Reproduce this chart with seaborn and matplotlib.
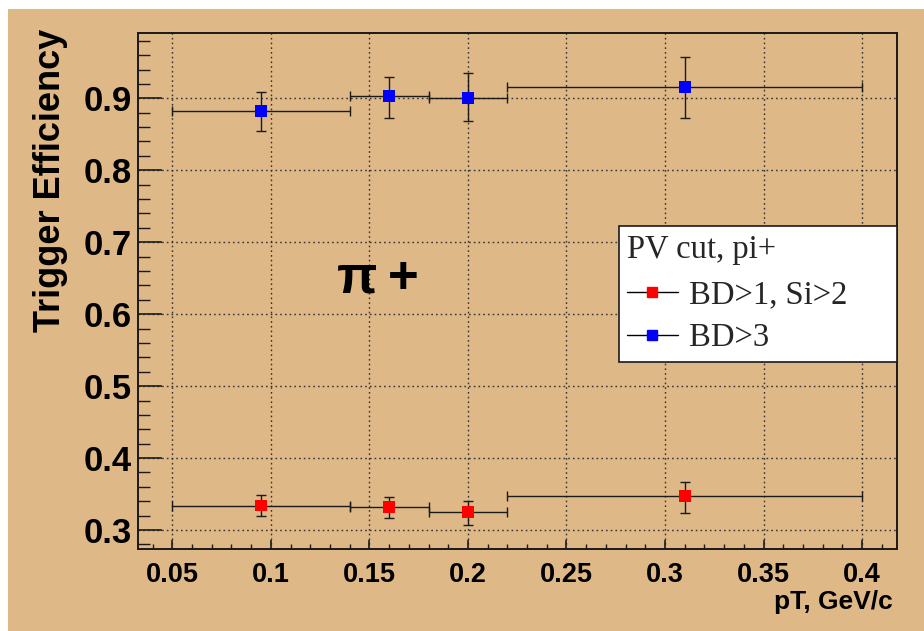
import matplotlib
matplotlib.use("Agg")
import matplotlib.pyplot as plt
from matplotlib.lines import Line2D
from matplotlib.patches import Rectangle
from matplotlib.ticker import MultipleLocator, FixedLocator, FixedFormatter
import numpy as np
import pandas as pd
import seaborn as sns

# pT bins (GeV/c) and the efficiency measured in each
bin_edges = [0.05, 0.14, 0.18, 0.22, 0.40]
pt_centers = [0.095, 0.16, 0.20, 0.31]

eff_bd1_si2 = [0.334, 0.332, 0.325, 0.347]
err_lo_bd1_si2 = [0.015, 0.016, 0.018, 0.023]
err_hi_bd1_si2 = [0.014, 0.014, 0.016, 0.020]

eff_bd3 = [0.882, 0.903, 0.901, 0.916]
err_lo_bd3 = [0.028, 0.030, 0.033, 0.043]
err_hi_bd3 = [0.027, 0.027, 0.034, 0.042]

series_labels = ["BD>1, Si>2", "BD>3"]
series_colors = ["#ff0000", "#0000ff"]
legend_title = "PV cut, pi+"
particle_label = "\u03c0\u2009+"
x_label = "pT, GeV/c"
y_label = "Trigger Efficiency"
x_ticks = [0.05, 0.10, 0.15, 0.20, 0.25, 0.30, 0.35, 0.40]
x_tick_labels = ["0.05", "0.1", "0.15", "0.2", "0.25", "0.3", "0.35", "0.4"]
y_ticks = [0.3, 0.4, 0.5, 0.6, 0.7, 0.8, 0.9]
y_tick_labels = ["0.3", "0.4", "0.5", "0.6", "0.7", "0.8", "0.9"]

BG = "#DEB887"
INK = "#1a1a1a"

rows = []
for label, eff, lo, hi in [(series_labels[0], eff_bd1_si2, err_lo_bd1_si2, err_hi_bd1_si2),
                           (series_labels[1], eff_bd3, err_lo_bd3, err_hi_bd3)]:
    for i, (pt, e, l, h) in enumerate(zip(pt_centers, eff, lo, hi)):
        rows.append({"series": label, "pt": pt, "eff": e,
                     "xlo": pt - bin_edges[i], "xhi": bin_edges[i + 1] - pt,
                     "ylo": l, "yhi": h})
df = pd.DataFrame(rows)

sns.set_style("ticks")
plt.rcParams["font.family"] = ["Liberation Sans", "DejaVu Sans"]

fig = plt.figure(figsize=(9.24, 6.31), dpi=100, facecolor=BG)
# thin white margin along the top and left edges
fig.patches.append(Rectangle((0, 1 - 9 / 631), 1, 9 / 631, transform=fig.transFigure,
                             facecolor="white", edgecolor="none", zorder=-10))
fig.patches.append(Rectangle((0, 0), 8 / 924, 1, transform=fig.transFigure,
                             facecolor="white", edgecolor="none", zorder=-10))

ax = fig.add_axes([137.5 / 924, 1 - 549 / 631, (896.7 - 137.5) / 924, (549 - 33) / 631])
ax.set_facecolor(BG)

# bin-width and statistical error bars
for label in series_labels:
    sub = df[df["series"] == label]
    ax.errorbar(sub["pt"], sub["eff"],
                xerr=[sub["xlo"], sub["xhi"]], yerr=[sub["ylo"], sub["yhi"]],
                fmt="none", ecolor=INK, elinewidth=1.0, capsize=3.5, capthick=1.0, zorder=2)

sns.scatterplot(data=df, x="pt", y="eff", hue="series", hue_order=series_labels,
                palette=series_colors, marker="s", s=72, linewidth=0,
                legend=False, ax=ax, zorder=3)

ax.set_xlim(0.0323, 0.4176)
ax.set_ylim(0.2736, 0.9908)

ax.xaxis.set_major_locator(FixedLocator(x_ticks))
ax.xaxis.set_major_formatter(FixedFormatter(x_tick_labels))
ax.xaxis.set_minor_locator(MultipleLocator(0.01))
ax.yaxis.set_major_locator(FixedLocator(y_ticks))
ax.yaxis.set_major_formatter(FixedFormatter(y_tick_labels))
ax.yaxis.set_minor_locator(MultipleLocator(0.02))

ax.tick_params(axis="x", which="major", direction="in", length=6.5, width=1.2,
               color=INK, pad=9, top=False)
ax.tick_params(axis="x", which="minor", direction="in", length=3.6, width=1.0,
               color=INK, top=False)
ax.tick_params(axis="y", which="major", direction="in", length=17, width=1.2,
               color=INK, pad=4, right=False)
ax.tick_params(axis="y", which="minor", direction="in", length=8.6, width=1.0,
               color=INK, right=False)
for lab in ax.get_xticklabels():
    lab.set_fontsize(19.5)
    lab.set_fontweight("bold")
    lab.set_color("black")
for lab in ax.get_yticklabels():
    lab.set_fontsize(25)
    lab.set_fontweight("bold")
    lab.set_color("black")

for sp in ax.spines.values():
    sp.set_visible(True)
    sp.set_linewidth(1.4)
    sp.set_color(INK)

ax.grid(True, which="major", linestyle=(0, (1.2, 2.2)), color="#333333", linewidth=1.0)
ax.set_axisbelow(True)

ax.set_xlabel(x_label, loc="right", fontsize=19, fontweight="bold", color="black")
ax.xaxis.set_label_coords((893 - 137.5) / 759.2, -(590 - 549) / 516)
ax.set_ylabel(y_label, loc="top", fontsize=26, fontweight="bold", color="black")
ax.yaxis.set_label_coords(-(137.5 - 68) / 759.2, (549 - 29) / 516)

ax.text(0.1337, 0.6308, particle_label, fontsize=38, fontweight="bold",
        ha="left", va="baseline", color="black")

handles = [Line2D([], [], color="black", lw=1.0, marker="s", markersize=7.5,
                  markerfacecolor=c, markeredgecolor=c) for c in series_colors]
leg = ax.legend(handles, series_labels, title=legend_title,
                loc="upper left", mode="expand",
                bbox_to_anchor=(619 / 924, 1 - 358 / 631, (897 - 619) / 924, (358 - 226) / 631),
                bbox_transform=fig.transFigure,
                prop={"family": "Liberation Serif", "size": 23.5},
                title_fontproperties={"family": "Liberation Serif", "size": 23.5},
                alignment="left", frameon=True, fancybox=False, framealpha=1,
                borderpad=0.25, handlelength=1.55, handletextpad=0.35,
                labelspacing=0.38, borderaxespad=0)
leg._legend_box.sep = 11
leg.get_frame().set_facecolor("white")
leg.get_frame().set_edgecolor(INK)
leg.get_frame().set_linewidth(1.2)

fig.savefig("out.png", dpi=100, facecolor=BG)
